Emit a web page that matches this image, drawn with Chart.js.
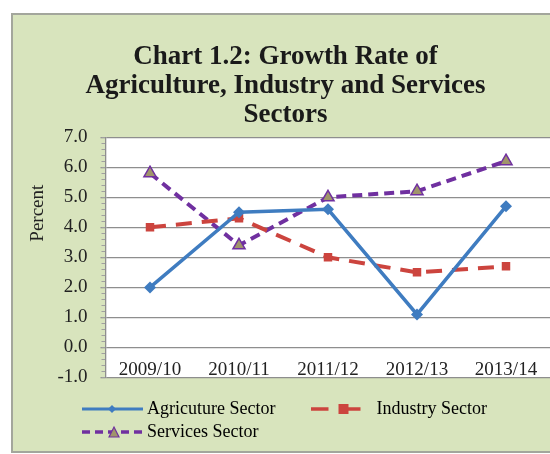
<!DOCTYPE html>
<html>
<head>
  <title>Chart 1.2</title>
  <script src="https://cdn.jsdelivr.net/npm/chart.js"></script>
  <style>
    html, body { margin: 0; width: 550px; height: 454px; overflow: hidden; background: #ffffff; }
    .frame {
      position: absolute; left: 11px; top: 13px; width: 537px; height: 436px;
      background: #d8e4bd; border: 2px solid #a3a69c; border-right: none;
    }
    /* a little wider than the window: the plot runs off the right edge like in the source */
    .chart-container { position: absolute; left: 0; top: 0; width: 559px; height: 454px; }
  </style>
</head>
<body>
  <div class="frame"></div>
  <div class="chart-container">
    <canvas id="chartGrowth"></canvas>
  </div>
  <script>
    const years = ['2009/10', '2010/11', '2011/12', '2012/13', '2013/14'];
    const agriculture = [2.0, 4.5, 4.6, 1.1, 4.7];
    const industry = [4.0, 4.3, 3.0, 2.5, 2.7];
    const services = [5.8, 3.4, 5.0, 5.2, 6.2];
    const titleLines = ['Chart 1.2: Growth Rate of', 'Agriculture, Industry and Services', 'Sectors'];
    const legendNames = ['Agricuture Sector', 'Industry Sector', 'Services Sector'];

    const blue = '#3f7cc0';
    const red = '#cc443e';
    const purple = '#7030a0';
    const khaki = '#a0956b';

    // little legend pictures: line + marker, like the excel legend
    function legendIcon(kind) {
      const c = document.createElement('canvas');
      c.width = 61; c.height = 14;
      const g = c.getContext('2d');
      const y = 7;
      if (kind === 'agri') {
        g.strokeStyle = blue; g.lineWidth = 3;
        g.beginPath(); g.moveTo(0, y); g.lineTo(61, y); g.stroke();
        g.fillStyle = blue;
        g.beginPath(); g.moveTo(30, y - 4); g.lineTo(34, y); g.lineTo(30, y + 4); g.lineTo(26, y); g.fill();
      } else if (kind === 'ind') {
        g.strokeStyle = red; g.lineWidth = 3.5;
        g.beginPath(); g.moveTo(0, y); g.lineTo(17, y); g.stroke();
        g.beginPath(); g.moveTo(33, y); g.lineTo(49, y); g.stroke();
        g.fillStyle = red; g.fillRect(27, y - 5, 10, 10);
      } else {
        g.strokeStyle = purple; g.lineWidth = 3.5;
        g.setLineDash([8, 5]);
        g.beginPath(); g.moveTo(0, y); g.lineTo(61, y); g.stroke();
        g.setLineDash([]);
        g.fillStyle = khaki; g.strokeStyle = purple; g.lineWidth = 1.2;
        g.beginPath(); g.moveTo(27, y + 5); g.lineTo(32, y - 5); g.lineTo(37, y + 5); g.closePath();
        g.fill(); g.stroke();
      }
      return c;
    }
    const icons = [legendIcon('agri'), legendIcon('ind'), legendIcon('serv')];

    const plotBackground = {
      id: 'plotBackground',
      beforeDraw(chart) {
        const a = chart.chartArea;
        const ctx = chart.ctx;
        ctx.save();
        ctx.fillStyle = '#ffffff';
        ctx.fillRect(a.left, a.top, a.right - a.left, a.bottom - a.top);
        ctx.restore();
      },
      afterLayout(chart) {
        // legend starts under the plot, not at the frame edge
        chart.legend.left += 70;
        chart.legend.right += 70;
      }
    };

    const ctx = document.getElementById('chartGrowth').getContext('2d');
    new Chart(ctx, {
      type: 'line',
      data: {
        labels: years,
        datasets: [{
          label: legendNames[0],
          data: agriculture,
          borderColor: blue,
          backgroundColor: blue,
          borderWidth: 3.5,
          pointStyle: 'rectRot',
          pointRadius: 6,
          pointBorderWidth: 0,
          tension: 0
        }, {
          label: legendNames[1],
          data: industry,
          borderColor: red,
          backgroundColor: red,
          borderWidth: 4,
          borderDash: [16, 10],
          pointStyle: 'rect',
          pointRadius: 6,
          pointBorderWidth: 0,
          tension: 0
        }, {
          label: legendNames[2],
          data: services,
          borderColor: purple,
          backgroundColor: khaki,
          borderWidth: 4,
          borderDash: [10, 6],
          pointStyle: 'triangle',
          pointRadius: 7,
          pointBorderColor: purple,
          pointBorderWidth: 1.5,
          tension: 0
        }]
      },
      options: {
        responsive: true,
        maintainAspectRatio: false,
        animation: false,
        layout: { padding: { left: 12, right: 0, top: 0, bottom: 3 } },
        plugins: {
          title: {
            display: true,
            text: titleLines,
            color: '#1a1a1a',
            font: { family: 'Liberation Serif', size: 27, weight: 'bold', lineHeight: 1.07 },
            padding: { top: 42.5, bottom: 8 }
          },
          legend: {
            position: 'bottom',
            align: 'start',
            labels: {
              usePointStyle: true,
              pointStyleWidth: 51,
              padding: 5,
              color: '#222222',
              font: { family: 'Liberation Serif', size: 18 },
              generateLabels(chart) {
                return chart.data.datasets.map((ds, i) => ({
                  text: i === 0 ? ds.label + '        ' : ds.label,
                  pointStyle: icons[i],
                  fillStyle: 'transparent',
                  strokeStyle: 'transparent',
                  lineWidth: 0,
                  datasetIndex: i,
                  hidden: false
                }));
              }
            }
          },
          tooltip: { enabled: false }
        },
        scales: {
          x: {
            offset: true,
            grid: { display: false, drawTicks: false },
            border: { display: false },
            ticks: {
              color: '#222222',
              font: { family: 'Liberation Serif', size: 19 },
              mirror: true,   // labels sit just inside the plot, above the bottom line
              padding: -3.5,
              maxRotation: 0,
              autoSkip: false
            },
            afterFit(scale) { scale.height = 17.5; }
          },
          y: {
            min: -1,
            max: 7,
            weight: 1,
            grid: { color: '#8e8e8e', lineWidth: 1.3, tickLength: 5 },
            border: { color: '#8e8e8e', width: 1.3 },
            ticks: {
              stepSize: 1,
              color: '#222222',
              font: { family: 'Liberation Serif', size: 19 },
              padding: 13,
              callback: v => v.toFixed(1)
            },
            title: {
              display: true,
              text: 'Percent          ',
              align: 'end',
              color: '#222222',
              font: { family: 'Liberation Serif', size: 19 },
              padding: { top: 15, bottom: 0 }
            },
            afterFit(scale) { scale.width = 93.5; }
          },
          // minor tick marks along the value axis
          yMinor: {
            type: 'linear',
            position: 'left',
            min: -1,
            max: 7,
            weight: 0,
            grid: { drawOnChartArea: false, color: '#a0a0a0', lineWidth: 1, tickLength: 4 },
            border: { display: false },
            ticks: { stepSize: 0.2, display: false },
            afterFit(scale) { scale.width = 0; }
          }
        }
      },
      plugins: [plotBackground]
    });
  </script>
</body>
</html>
